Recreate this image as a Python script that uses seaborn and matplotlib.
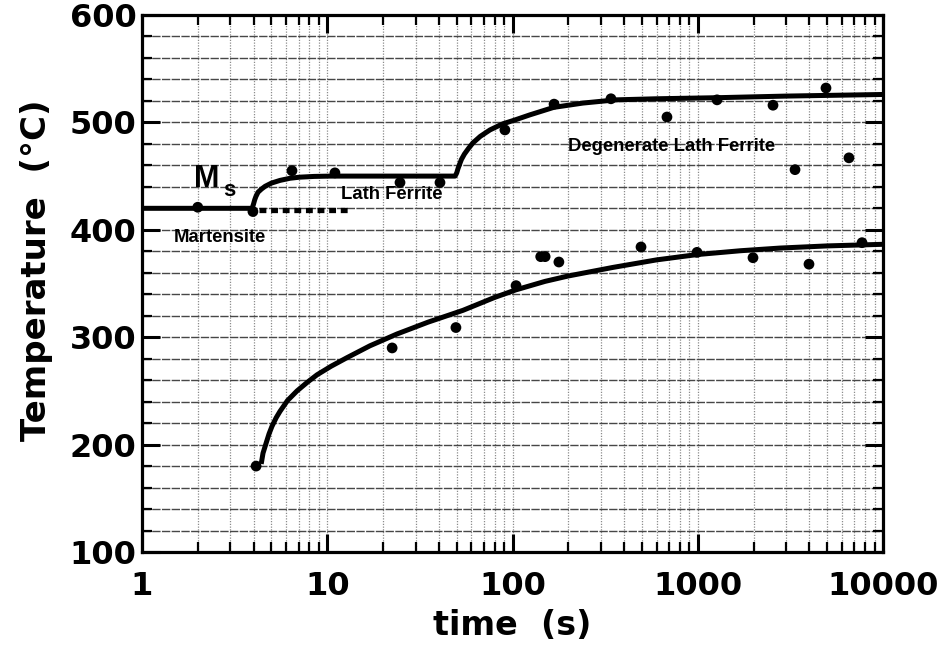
import matplotlib
matplotlib.use("Agg")
import matplotlib.pyplot as plt
import matplotlib.ticker as mticker
import seaborn as sns
import pandas as pd

# ---------------- data ----------------
# measured points, upper branch (start temperatures)
upper_t = [2, 3.97, 6.45, 11.0, 24.7, 40.6, 91, 167.6, 340, 682, 1271, 2548, 4923, 3350, 6550]
upper_T = [421, 417, 455, 453, 444, 444, 493, 517, 522, 505, 521, 516, 532, 456, 467]

# measured points, lower branch
lower_t = [4.13, 22.4, 49.5, 104.5, 142, 150, 178, 494, 991, 1987, 3985, 7705]
lower_T = [180, 290, 309, 348, 375, 375, 370, 384, 379, 374, 368, 388]

# fitted curve through the upper branch (Ms, lath ferrite, degenerate lath ferrite)
upper_curve_t = [1, 3.93, 4.0, 4.06, 4.12, 4.23, 4.42, 4.62, 5.0, 5.56, 6.3, 7.1, 8.5, 10.4,
                 49, 50.0, 50.8, 51.8, 53, 55, 58, 61.2, 67, 75.6, 88, 102, 124, 167, 240, 362,
                 600, 1271, 3000, 10000]
upper_curve_T = [420, 420, 424, 428, 431, 435, 438, 440.5, 443.5, 446, 448, 449, 449.7, 450,
                 450, 453, 457, 461, 465.5, 470.5, 476, 481, 487, 493, 498.5, 502, 507, 514, 518, 521,
                 522, 523, 524.5, 526]

# fitted curve through the lower branch
lower_curve_t = [4.4, 4.5, 4.67, 4.85, 5.03, 5.3, 5.56, 6.1, 6.87, 7.8, 8.81, 10.5, 12.8,
                 17, 23.8, 35, 54, 80, 104, 150, 200, 349, 600, 1000, 1700, 2780, 5000, 10000]
lower_curve_T = [182, 192, 201, 210, 217, 225, 231, 241, 250, 258, 265, 273, 281,
                 292, 303, 314, 325, 337, 344, 352, 357, 365, 372, 377, 380.5, 383, 385, 386.5]

# martensite (dotted) line
mart_t = [4.27, 13.1]
mart_T = [418, 418]

x_ticks = [1, 10, 100, 1000, 10000]
x_labels = ["1", "10", "100", "1000", "10000"]
y_ticks = [100, 200, 300, 400, 500, 600]
y_labels = ["100", "200", "300", "400", "500", "600"]

# ---------------- styling ----------------
sns.set_theme(style="white")
plt.rcParams["font.family"] = ["DejaVu Sans"]
plt.rcParams["font.weight"] = "bold"
plt.rcParams["text.color"] = "black"
plt.rcParams["axes.labelcolor"] = "black"
plt.rcParams["xtick.color"] = "black"
plt.rcParams["ytick.color"] = "black"

fig = plt.figure(figsize=(9.49, 6.46), dpi=100)
ax = fig.add_axes([142 / 949, 1 - 552 / 646, (883 - 142) / 949, (552 - 15) / 646])

ax.set_xscale("log")
ax.set_xlim(1, 10000)
ax.set_ylim(100, 600)

# grid
ax.set_axisbelow(True)
ax.xaxis.set_major_locator(mticker.FixedLocator(x_ticks))
ax.xaxis.set_minor_locator(mticker.LogLocator(base=10, subs=range(2, 10), numticks=20))
ax.xaxis.set_minor_formatter(mticker.NullFormatter())
ax.set_xticks(x_ticks)
ax.set_xticklabels(x_labels)
ax.set_yticks(y_ticks)
ax.set_yticklabels(y_labels)
ax.yaxis.set_minor_locator(mticker.MultipleLocator(20))

ax.grid(True, which="both", axis="x", color="0.55", lw=0.9, ls=(0, (1, 1.2)))
ax.grid(True, which="both", axis="y", color="0.28", lw=1.0, ls=(0, (6, 1)))

# curves
line_kw = dict(color="black", lw=3.6, solid_capstyle="butt", solid_joinstyle="round")
sns.lineplot(x=upper_curve_t, y=upper_curve_T, ax=ax, estimator=None, sort=False, **line_kw)
sns.lineplot(x=lower_curve_t, y=lower_curve_T, ax=ax, estimator=None, sort=False, **line_kw)
sns.lineplot(x=mart_t, y=mart_T, ax=ax, estimator=None, sort=False, color="black",
             lw=3.8, ls=(0, (1.3, 0.9)), dash_capstyle="butt")

# points
pts = pd.DataFrame({"t": upper_t + lower_t, "T": upper_T + lower_T})
sns.scatterplot(data=pts, x="t", y="T", ax=ax, color="black", s=60, edgecolor="none", zorder=5)

# annotations
ann = dict(family=["Liberation Sans", "DejaVu Sans"], fontweight="bold", color="black")
ax.text(726, 478, "Degenerate Lath Ferrite", ha="center", va="center", fontsize=13.3, **ann)
ax.text(22.4, 433, "Lath Ferrite", ha="center", va="center", fontsize=13.3, **ann)
ax.text(2.64, 393, "Martensite", ha="center", va="center", fontsize=13.3, **ann)
ax.text(2.24, 447, "M", ha="center", va="center", fontsize=22, **ann)
ax.text(2.95, 437, "s", ha="center", va="center", fontsize=16, **ann)

# spines and ticks
for sp in ax.spines.values():
    sp.set_visible(True)
    sp.set_color("black")
    sp.set_linewidth(2.3)

ax.tick_params(which="major", direction="in", length=13, width=2.2, top=True, right=True,
               bottom=True, left=True, color="black", labelsize=23, labelcolor="black")
ax.tick_params(which="minor", direction="in", length=7, width=1.6, top=True, right=True,
               bottom=True, left=True, color="black")
ax.tick_params(axis="x", which="major", pad=14)
ax.tick_params(axis="y", which="major", pad=4)
for lab in ax.get_xticklabels() + ax.get_yticklabels():
    lab.set_fontweight("bold")

ax.set_xlabel("time  (s)", fontsize=24, fontweight="bold", labelpad=5)
ax.set_ylabel("Temperature  (°C)", fontsize=24.5, fontweight="bold", labelpad=12)
ax.yaxis.label.set_y(0.525)

fig.savefig("out.png", dpi=100)
